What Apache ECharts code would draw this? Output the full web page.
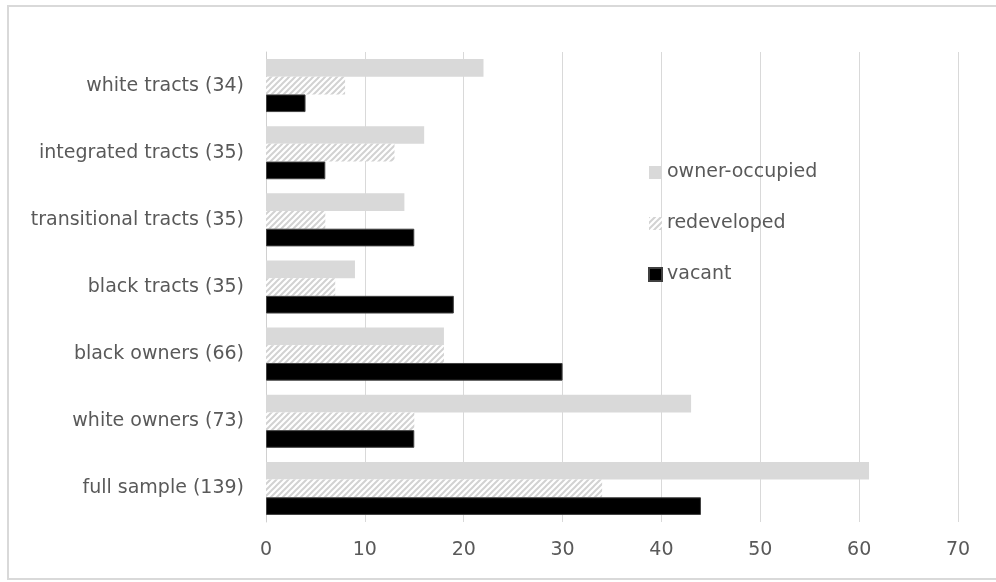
<!DOCTYPE html>
<html>
<head>
	<meta charset="utf-8" />
	<script src="https://cdn.jsdelivr.net/npm/echarts@6/dist/echarts.min.js"></script>
	<style>
		html, body { margin: 0; padding: 0; background: #fff; overflow: hidden; }
		#main { width: 996px; height: 582px; }
	</style>
</head>
<body>
	<div id="main"></div>
	<script type="text/javascript">
		// categories, bottom to top
		var categories = ['full sample (139)', 'white owners (73)', 'black owners (66)', 'black tracts (35)',
			'transitional tracts (35)', 'integrated tracts (35)', 'white tracts (34)'];
		var ownerOccupied = [61, 43, 18, 9, 14, 16, 22];
		var redeveloped = [34, 15, 18, 7, 6, 13, 8];
		var vacant = [44, 15, 30, 19, 15, 6, 4];
		var xTicks = [0, 10, 20, 30, 40, 50, 60, 70];

		// diagonal hatch for "redeveloped"
		var tile = document.createElement('canvas');
		tile.width = 6; tile.height = 6;
		var ctx = tile.getContext('2d');
		ctx.fillStyle = '#ffffff';
		ctx.fillRect(0, 0, 6, 6);
		ctx.strokeStyle = '#d2d2d2';
		ctx.lineWidth = 2;
		ctx.beginPath();
		ctx.moveTo(-1, 7); ctx.lineTo(7, -1);
		ctx.moveTo(-4, 4); ctx.lineTo(4, -4);
		ctx.moveTo(2, 10); ctx.lineTo(10, 2);
		ctx.stroke();
		var hatch = { image: tile, repeat: 'repeat' };

		var font = 'DejaVu Sans';
		var myChart = echarts.init(document.getElementById('main'));

		var option = {
			animation: false,
			textStyle: { fontFamily: font },
			graphic: [{
				type: 'rect',
				shape: { x: 8, y: 6, width: 1000, height: 573 },
				style: { fill: null, stroke: '#d9d9d9', lineWidth: 2 },
				silent: true
			}],
			grid: { left: 266, right: 38, top: 52, bottom: 60 },
			legend: {
				orient: 'vertical',
				left: 643,
				top: 158,
				icon: 'rect',
				itemWidth: 13,
				itemHeight: 13,
				itemGap: 32,
				textStyle: { fontSize: 19, color: '#595959', fontFamily: font },
				data: ['owner-occupied', 'redeveloped', 'vacant']
			},
			xAxis: {
				type: 'value',
				min: 0,
				max: 70,
				interval: 10,
				axisLine: { show: false },
				axisTick: { show: false },
				axisLabel: {
					fontSize: 19, color: '#595959', margin: 19,
					formatter: function (v) { return xTicks.indexOf(v) >= 0 ? String(v) : ''; }
				},
				splitLine: { lineStyle: { color: '#d9d9d9', width: 1 } }
			},
			yAxis: {
				type: 'category',
				data: categories,
				axisLine: { lineStyle: { color: '#d0d0d0', width: 1 } },
				axisTick: { show: false },
				axisLabel: { fontSize: 19, color: '#595959', margin: 22 }
			},
			series: [
				{
					name: 'owner-occupied', type: 'bar', data: ownerOccupied,
					barGap: '0%', barCategoryGap: '21%',
					itemStyle: { color: '#d9d9d9' }
				},
				{
					name: 'redeveloped', type: 'bar', data: redeveloped,
					itemStyle: { color: hatch }
				},
				{
					name: 'vacant', type: 'bar', data: vacant,
					itemStyle: { color: '#000000', borderColor: '#404040', borderWidth: 1 }
				}
			]
		};

		myChart.setOption(option);
	</script>
</body>
</html>
